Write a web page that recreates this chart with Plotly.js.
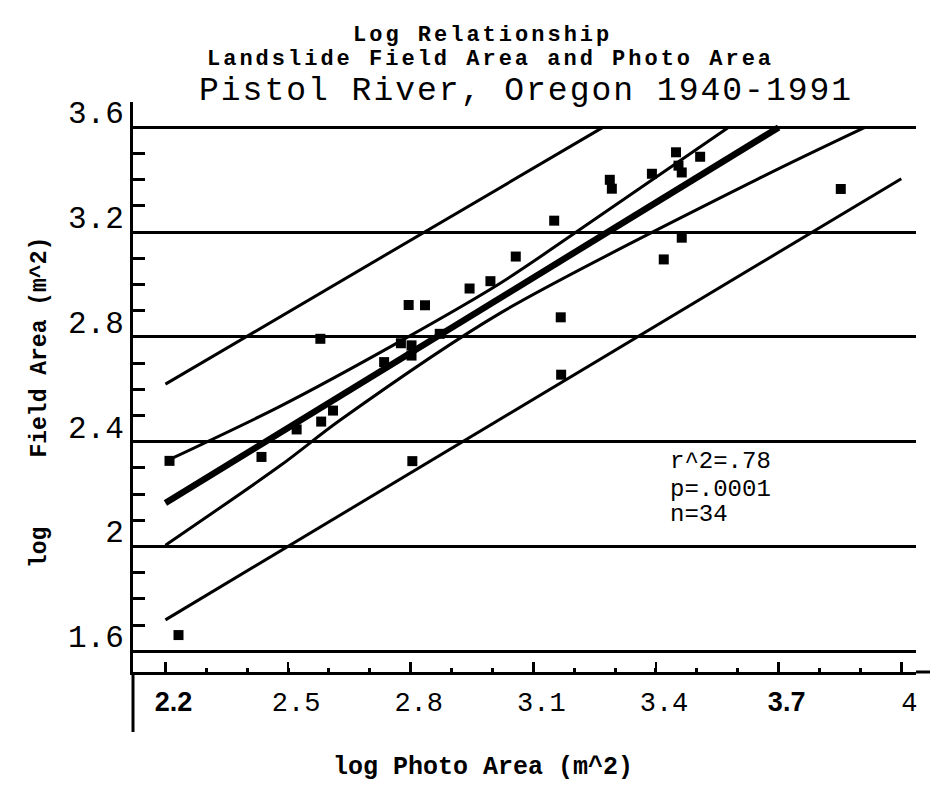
<!DOCTYPE html>
<html>
<head>
<meta charset="utf-8">
<script src="https://cdn.plot.ly/plotly-3.0.1.min.js"></script>
<style>html,body{margin:0;padding:0;background:#fff;}</style>
</head>
<body>
<div id="chart" style="width:939px;height:788px;"></div>
<script>
// ---- data ----
const photoArea = [2.210, 2.435, 2.521, 2.581, 2.610, 2.232, 2.579, 2.795, 2.835, 2.944,
                   2.995, 2.776, 2.802, 2.802, 2.735, 2.871, 2.804, 3.449, 3.508, 3.455,
                   3.463, 3.390, 3.287, 3.292, 3.151, 3.463, 3.057, 3.419, 3.167, 3.852, 3.168];
const fieldArea = [2.327, 2.342, 2.447, 2.477, 2.519, 1.662, 2.793, 2.922, 2.921, 2.985,
                   3.013, 2.776, 2.768, 2.729, 2.704, 2.812, 2.326, 3.505, 3.488, 3.454,
                   3.428, 3.423, 3.400, 3.366, 3.244, 3.179, 3.107, 3.096, 2.875, 3.365, 2.656];

const fitX = [2.20, 3.70];
const fitY = [2.166, 3.60];
const ciUpperX = [2.20, 2.479, 2.775, 3.021, 3.293, 3.577];
const ciUpperY = [2.325, 2.534, 2.784, 3.007, 3.295, 3.60];
const ciLowerX = [2.20, 2.482, 2.626, 3.020, 3.661, 3.911];
const ciLowerY = [2.005, 2.310, 2.481, 2.892, 3.412, 3.60];
const piUpperX = [2.20, 3.27];
const piUpperY = [2.62, 3.60];
const piLowerX = [2.20, 4.00];
const piLowerY = [1.72, 3.404];

const xTickVals = [2.2, 2.5, 2.8, 3.1, 3.4, 3.7, 4.0];
const xTickLabels = ['2.2', '2.5', '2.8', '3.1', '3.4', '3.7', '4'];
const yTickVals = [1.6, 2.0, 2.4, 2.8, 3.2, 3.6];
const yTickLabels = ['1.6', '2', '2.4', '2.8', '3.2', '3.6'];
const handLettered = ['2.2', '3.7'];

const titleLine1 = 'Log Relationship';
const titleLine2 = 'Landslide Field Area and Photo Area';
const subTitle = 'Pistol River, Oregon 1940-1991';
const xTitle = 'log Photo Area (m^2)';
const yTitle = 'log\u00A0\u00A0\u00A0\u00A0\u00A0Field Area (m^2)';
const statsLines = ['r^2=.78', 'p=.0001', 'n=34'];

// ---- layout helpers (pixel -> paper) ----
const L = 133, R = 916, T = 102, B = 672;
const px = x => (x - L) / (R - L);
const py = y => (B - y) / (B - T);
const MONO = 'Liberation Mono, Courier New, monospace';

const line = (x, y, w, shape) => ({x, y, type: 'scatter', mode: 'lines', hoverinfo: 'skip',
  line: {color: '#000', width: w, shape: shape || 'linear', smoothing: 0.8}});

const traces = [
  line(piUpperX, piUpperY, 3),
  line(piLowerX, piLowerY, 3),
  line(ciUpperX, ciUpperY, 3, 'spline'),
  line(ciLowerX, ciLowerY, 3, 'spline'),
  line(fitX, fitY, 6.5),
  {x: photoArea, y: fieldArea, type: 'scatter', mode: 'markers',
   marker: {symbol: 'square', size: 10, color: '#000'}}
];

const xTickText = xTickLabels.map(t => handLettered.includes(t)
  ? '<span style="font-family:Liberation Sans, Arial, sans-serif;font-weight:bold">' + t + '</span>' : t);

const spaced = (t, ls) => '<span style="letter-spacing:' + ls + 'px">' + t + '</span>';

const ann = (text, x, y, size, opts) => Object.assign({
  text, xref: 'paper', yref: 'paper', x: px(x), y: py(y), showarrow: false,
  xanchor: 'center', yanchor: 'middle', font: {family: MONO, size, color: '#000'}
}, opts || {});

const annotations = [
  ann('<b>' + spaced(titleLine1, 3) + '</b>', 482, 35, 22),
  ann('<b>' + spaced(titleLine2, 3) + '</b>', 490, 60, 22),
  ann(spaced(subTitle, 2), 526, 92, 33),
  ann('<b>' + xTitle + '</b>', 483, 767, 25),
  ann('<b>' + yTitle + '</b>', 40, 403, 23, {textangle: -90}),
];
const statsY = [461, 489, 514];
statsLines.forEach((s, i) => annotations.push(ann(s, 668, statsY[i], 24, {xanchor: 'left'})));

const layout = {
  width: 939, height: 788,
  margin: {l: L, r: 939 - R, t: T, b: 788 - B, pad: 0},
  paper_bgcolor: '#fff', plot_bgcolor: '#fff',
  showlegend: false,
  xaxis: {
    range: [2.1207, 4.036], tickmode: 'array', tickvals: xTickVals, ticktext: xTickText,
    ticks: 'inside', ticklen: 10, tickwidth: 2.5, tickcolor: '#000',
    showline: true, linewidth: 3, linecolor: '#000', showgrid: false, zeroline: false,
    tickfont: {family: MONO, size: 27, color: '#000'},
    ticklabelshift: 8, ticklabelstandoff: 4,
    minor: {tickmode: 'linear', tick0: 2.2, dtick: 0.1, ticks: 'inside', ticklen: 4, tickwidth: 3, tickcolor: '#000', showgrid: false}
  },
  yaxis: {
    range: [1.521, 3.697], tickmode: 'array', tickvals: yTickVals, ticktext: yTickLabels,
    ticks: 'inside', ticklen: 12, tickwidth: 3, tickcolor: '#000',
    showline: true, linewidth: 3, linecolor: '#000',
    showgrid: true, gridcolor: '#000', gridwidth: 3, zeroline: false,
    tickfont: {family: MONO, size: 31, color: '#000'},
    ticklabelshift: -15, ticklabelstandoff: 0,
    minor: {tickmode: 'linear', tick0: 1.6, dtick: 0.1, ticks: 'inside', ticklen: 12, tickwidth: 3, tickcolor: '#000', showgrid: false}
  },
  shapes: [
    {type: 'line', xref: 'paper', yref: 'paper', x0: 0, x1: 0, y0: 0, y1: py(732), line: {color: '#000', width: 3}},
    {type: 'line', xref: 'paper', yref: 'paper', x0: 1, x1: px(930), y0: 0, y1: 0, line: {color: '#000', width: 3}}
  ],
  annotations
};

Plotly.newPlot('chart', traces, layout, {displayModeBar: false, staticPlot: true});
</script>
</body>
</html>
